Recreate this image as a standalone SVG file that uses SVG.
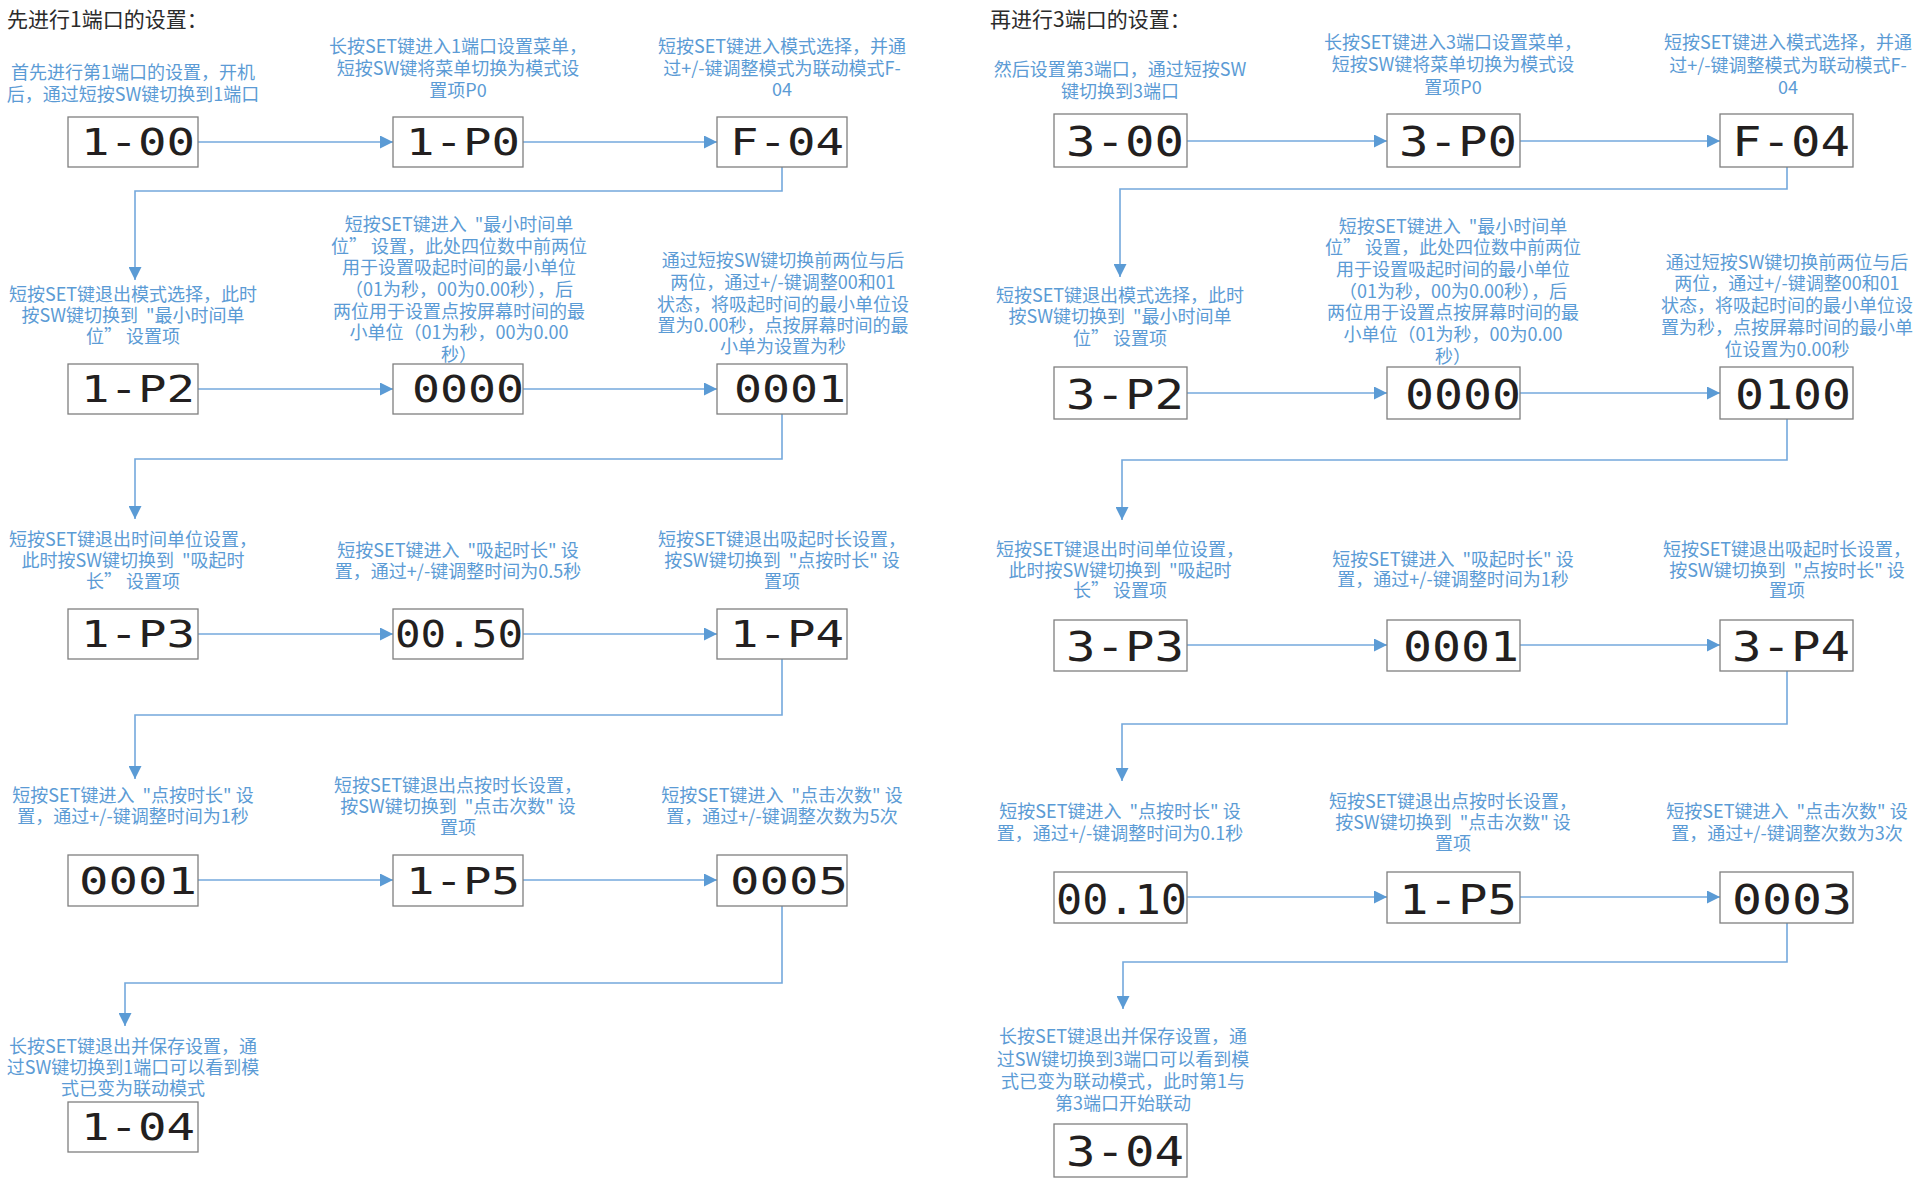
<svg xmlns="http://www.w3.org/2000/svg" width="1920" height="1185" viewBox="0 0 1920 1185">
<style>
.bg{fill:#ffffff}
.title{font-family:"Noto Sans CJK SC","Noto Sans",sans-serif;font-size:21px;fill:#2b2b2b}
.lbl{font-family:"Noto Sans CJK SC","Noto Sans",sans-serif;font-size:18px;fill:#5b9bd5;text-anchor:middle}
.box{fill:#ffffff;stroke:#7f7f7f;stroke-width:1.3}
.seg{font-family:"DejaVu Sans Mono","Liberation Mono",monospace;font-size:37px;fill:#231f20;text-anchor:end}
.segR{font-family:"DejaVu Sans Mono","Liberation Mono",monospace;font-size:40px;fill:#231f20;text-anchor:end}
.conn{fill:none;stroke:#74a8dc;stroke-width:1.6}
</style>
<defs>
<marker id="ah" markerWidth="13" markerHeight="13" refX="13" refY="6.5" orient="auto" markerUnits="userSpaceOnUse">
<path d="M0,0 L13,6.5 L0,13 z" fill="#5b9bd5"/>
</marker>
</defs>
<rect class="bg" x="0" y="0" width="1920" height="1185"/>

<text class="title" x="7" y="27">先进行1端口的设置：</text>
<text class="title" x="990" y="27">再进行3端口的设置：</text>

<g id="connectors">
<path class="conn" d="M198,142 H393" marker-end="url(#ah)"/>
<path class="conn" d="M523,142 H717" marker-end="url(#ah)"/>
<path class="conn" d="M782,167 V191 H135 V280" marker-end="url(#ah)"/>
<path class="conn" d="M198,389 H393" marker-end="url(#ah)"/>
<path class="conn" d="M523,389 H717" marker-end="url(#ah)"/>
<path class="conn" d="M782,414 V459 H135 V519" marker-end="url(#ah)"/>
<path class="conn" d="M198,634 H393" marker-end="url(#ah)"/>
<path class="conn" d="M523,634 H717" marker-end="url(#ah)"/>
<path class="conn" d="M782,659 V715 H135 V779" marker-end="url(#ah)"/>
<path class="conn" d="M198,880 H393" marker-end="url(#ah)"/>
<path class="conn" d="M523,880 H717" marker-end="url(#ah)"/>
<path class="conn" d="M782,906 V983 H125 V1026" marker-end="url(#ah)"/>

<path class="conn" d="M1187,141 H1387" marker-end="url(#ah)"/>
<path class="conn" d="M1520,141 H1720" marker-end="url(#ah)"/>
<path class="conn" d="M1787,167 V189 H1120 V277" marker-end="url(#ah)"/>
<path class="conn" d="M1187,393 H1387" marker-end="url(#ah)"/>
<path class="conn" d="M1520,393 H1720" marker-end="url(#ah)"/>
<path class="conn" d="M1787,419 V460 H1122 V520" marker-end="url(#ah)"/>
<path class="conn" d="M1187,645 H1387" marker-end="url(#ah)"/>
<path class="conn" d="M1520,645 H1720" marker-end="url(#ah)"/>
<path class="conn" d="M1787,671 V724 H1122 V781" marker-end="url(#ah)"/>
<path class="conn" d="M1187,897 H1387" marker-end="url(#ah)"/>
<path class="conn" d="M1520,897 H1720" marker-end="url(#ah)"/>
<path class="conn" d="M1787,923 V962 H1123 V1009" marker-end="url(#ah)"/>
</g>

<!-- LEFT COLUMN -->
<g id="n-1-00">
<text class="lbl"><tspan x="133" y="79">首先进行第1端口的设置，开机</tspan><tspan x="133" y="101">后，通过短按SW键切换到1端口</tspan></text>
<rect class="box" x="68" y="117" width="130" height="50"/>
<text class="seg" x="195" y="155" textLength="114" lengthAdjust="spacingAndGlyphs">1-00</text>
</g>
<g id="n-1-P0">
<text class="lbl"><tspan x="458" y="53">长按SET键进入1端口设置菜单，</tspan><tspan x="458" y="75">短按SW键将菜单切换为模式设</tspan><tspan x="458" y="97">置项P0</tspan></text>
<rect class="box" x="393" y="117" width="130" height="50"/>
<text class="seg" x="520" y="155" textLength="114" lengthAdjust="spacingAndGlyphs">1-P0</text>
</g>
<g id="n-F-04-L">
<text class="lbl"><tspan x="782" y="53">短按SET键进入模式选择，并通</tspan><tspan x="782" y="75">过+/-键调整模式为联动模式F-</tspan><tspan x="782" y="96">04</tspan></text>
<rect class="box" x="717" y="117" width="130" height="50"/>
<text class="seg" x="844" y="155" textLength="114" lengthAdjust="spacingAndGlyphs">F-04</text>
</g>

<g id="n-1-P2">
<text class="lbl"><tspan x="133" y="301">短按SET键退出模式选择，此时</tspan><tspan x="133" y="322">按SW键切换到 &#160;"最小时间单</tspan><tspan x="133" y="343">位” 设置项</tspan></text>
<rect class="box" x="68" y="364" width="130" height="50"/>
<text class="seg" x="195" y="402" textLength="114" lengthAdjust="spacingAndGlyphs">1-P2</text>
</g>
<g id="n-0000-L">
<text class="lbl"><tspan x="459" y="231">短按SET键进入 &#160;"最小时间单</tspan><tspan x="459" y="253">位” 设置，此处四位数中前两位</tspan><tspan x="459" y="274">用于设置吸起时间的最小单位</tspan><tspan x="459" y="296">（01为秒，00为0.00秒），后</tspan><tspan x="459" y="318">两位用于设置点按屏幕时间的最</tspan><tspan x="459" y="339">小单位（01为秒，00为0.00</tspan><tspan x="459" y="361">秒）</tspan></text>
<rect class="box" x="393" y="364" width="130" height="50"/>
<text class="seg" x="524" y="402" textLength="112" lengthAdjust="spacingAndGlyphs">0000</text>
</g>
<g id="n-0001-L">
<text class="lbl"><tspan x="783" y="267">通过短按SW键切换前两位与后</tspan><tspan x="783" y="289">两位，通过+/-键调整00和01</tspan><tspan x="783" y="311">状态，将吸起时间的最小单位设</tspan><tspan x="783" y="332">置为0.00秒，点按屏幕时间的最</tspan><tspan x="783" y="353">小单为设置为秒</tspan></text>
<rect class="box" x="717" y="364" width="130" height="50"/>
<text class="seg" x="846" y="402" textLength="112" lengthAdjust="spacingAndGlyphs">0001</text>
</g>

<g id="n-1-P3">
<text class="lbl"><tspan x="133" y="546">短按SET键退出时间单位设置，</tspan><tspan x="133" y="567">此时按SW键切换到 &#160;"吸起时</tspan><tspan x="133" y="588">长” 设置项</tspan></text>
<rect class="box" x="68" y="609" width="130" height="50"/>
<text class="seg" x="195" y="647" textLength="114" lengthAdjust="spacingAndGlyphs">1-P3</text>
</g>
<g id="n-0050">
<text class="lbl"><tspan x="458" y="557">短按SET键进入 &#160;"吸起时长" 设</tspan><tspan x="458" y="578">置，通过+/-键调整时间为0.5秒</tspan></text>
<rect class="box" x="393" y="609" width="130" height="50"/>
<text class="seg" x="523" y="647" textLength="128" lengthAdjust="spacingAndGlyphs">00.50</text>
</g>
<g id="n-1-P4">
<text class="lbl"><tspan x="782" y="546">短按SET键退出吸起时长设置，</tspan><tspan x="782" y="567">按SW键切换到 &#160;"点按时长" 设</tspan><tspan x="782" y="588">置项</tspan></text>
<rect class="box" x="717" y="609" width="130" height="50"/>
<text class="seg" x="844" y="647" textLength="114" lengthAdjust="spacingAndGlyphs">1-P4</text>
</g>

<g id="n-0001-L2">
<text class="lbl"><tspan x="133" y="802">短按SET键进入 &#160;"点按时长" 设</tspan><tspan x="133" y="823">置，通过+/-键调整时间为1秒</tspan></text>
<rect class="box" x="68" y="855" width="130" height="51"/>
<text class="seg" x="197" y="894" textLength="118" lengthAdjust="spacingAndGlyphs">0001</text>
</g>
<g id="n-1-P5-L">
<text class="lbl"><tspan x="458" y="792">短按SET键退出点按时长设置，</tspan><tspan x="458" y="813">按SW键切换到 &#160;"点击次数" 设</tspan><tspan x="458" y="834">置项</tspan></text>
<rect class="box" x="393" y="855" width="130" height="51"/>
<text class="seg" x="520" y="894" textLength="114" lengthAdjust="spacingAndGlyphs">1-P5</text>
</g>
<g id="n-0005">
<text class="lbl"><tspan x="782" y="802">短按SET键进入 &#160;"点击次数" 设</tspan><tspan x="782" y="823">置，通过+/-键调整次数为5次</tspan></text>
<rect class="box" x="717" y="855" width="130" height="51"/>
<text class="seg" x="848" y="894" textLength="118" lengthAdjust="spacingAndGlyphs">0005</text>
</g>

<g id="n-1-04">
<text class="lbl"><tspan x="133" y="1053">长按SET键退出并保存设置，通</tspan><tspan x="133" y="1074">过SW键切换到1端口可以看到模</tspan><tspan x="133" y="1095">式已变为联动模式</tspan></text>
<rect class="box" x="68" y="1102" width="130" height="50"/>
<text class="seg" x="195" y="1140" textLength="114" lengthAdjust="spacingAndGlyphs">1-04</text>
</g>

<!-- RIGHT COLUMN -->
<g id="n-3-00">
<text class="lbl"><tspan x="1120" y="76">然后设置第3端口，通过短按SW</tspan><tspan x="1120" y="98">键切换到3端口</tspan></text>
<rect class="box" x="1054" y="114" width="133" height="53"/>
<text class="segR" x="1184" y="156" textLength="118" lengthAdjust="spacingAndGlyphs">3-00</text>
</g>
<g id="n-3-P0">
<text class="lbl"><tspan x="1453" y="49">长按SET键进入3端口设置菜单，</tspan><tspan x="1453" y="71">短按SW键将菜单切换为模式设</tspan><tspan x="1453" y="94">置项P0</tspan></text>
<rect class="box" x="1387" y="114" width="133" height="53"/>
<text class="segR" x="1517" y="156" textLength="118" lengthAdjust="spacingAndGlyphs">3-P0</text>
</g>
<g id="n-F-04-R">
<text class="lbl"><tspan x="1788" y="49">短按SET键进入模式选择，并通</tspan><tspan x="1788" y="72">过+/-键调整模式为联动模式F-</tspan><tspan x="1788" y="94">04</tspan></text>
<rect class="box" x="1720" y="114" width="133" height="53"/>
<text class="segR" x="1850" y="156" textLength="118" lengthAdjust="spacingAndGlyphs">F-04</text>
</g>

<g id="n-3-P2">
<text class="lbl"><tspan x="1120" y="302">短按SET键退出模式选择，此时</tspan><tspan x="1120" y="323">按SW键切换到 &#160;"最小时间单</tspan><tspan x="1120" y="345">位” 设置项</tspan></text>
<rect class="box" x="1054" y="367" width="133" height="52"/>
<text class="segR" x="1184" y="409" textLength="118" lengthAdjust="spacingAndGlyphs">3-P2</text>
</g>
<g id="n-0000-R">
<text class="lbl"><tspan x="1453" y="233">短按SET键进入 &#160;"最小时间单</tspan><tspan x="1453" y="254">位” 设置，此处四位数中前两位</tspan><tspan x="1453" y="276">用于设置吸起时间的最小单位</tspan><tspan x="1453" y="298">（01为秒，00为0.00秒），后</tspan><tspan x="1453" y="319">两位用于设置点按屏幕时间的最</tspan><tspan x="1453" y="341">小单位（01为秒，00为0.00</tspan><tspan x="1453" y="363">秒）</tspan></text>
<rect class="box" x="1387" y="367" width="133" height="52"/>
<text class="segR" x="1521" y="409" textLength="116" lengthAdjust="spacingAndGlyphs">0000</text>
</g>
<g id="n-0100">
<text class="lbl"><tspan x="1787" y="269">通过短按SW键切换前两位与后</tspan><tspan x="1787" y="290">两位，通过+/-键调整00和01</tspan><tspan x="1787" y="312">状态，将吸起时间的最小单位设</tspan><tspan x="1787" y="334">置为秒，点按屏幕时间的最小单</tspan><tspan x="1787" y="356">位设置为0.00秒</tspan></text>
<rect class="box" x="1720" y="367" width="133" height="52"/>
<text class="segR" x="1851" y="409" textLength="116" lengthAdjust="spacingAndGlyphs">0100</text>
</g>

<g id="n-3-P3">
<text class="lbl"><tspan x="1120" y="556">短按SET键退出时间单位设置，</tspan><tspan x="1120" y="577">此时按SW键切换到 &#160;"吸起时</tspan><tspan x="1120" y="597">长” 设置项</tspan></text>
<rect class="box" x="1054" y="620" width="133" height="51"/>
<text class="segR" x="1184" y="661" textLength="118" lengthAdjust="spacingAndGlyphs">3-P3</text>
</g>
<g id="n-0001-R">
<text class="lbl"><tspan x="1453" y="566">短按SET键进入 &#160;"吸起时长" 设</tspan><tspan x="1453" y="586">置，通过+/-键调整时间为1秒</tspan></text>
<rect class="box" x="1387" y="620" width="133" height="51"/>
<text class="segR" x="1519" y="661" textLength="116" lengthAdjust="spacingAndGlyphs">0001</text>
</g>
<g id="n-3-P4">
<text class="lbl"><tspan x="1787" y="556">短按SET键退出吸起时长设置，</tspan><tspan x="1787" y="577">按SW键切换到 &#160;"点按时长" 设</tspan><tspan x="1787" y="597">置项</tspan></text>
<rect class="box" x="1720" y="620" width="133" height="51"/>
<text class="segR" x="1850" y="661" textLength="118" lengthAdjust="spacingAndGlyphs">3-P4</text>
</g>

<g id="n-0010">
<text class="lbl"><tspan x="1120" y="818">短按SET键进入 &#160;"点按时长" 设</tspan><tspan x="1120" y="840">置，通过+/-键调整时间为0.1秒</tspan></text>
<rect class="box" x="1054" y="872" width="133" height="51"/>
<text class="segR" x="1187" y="914" textLength="131" lengthAdjust="spacingAndGlyphs">00.10</text>
</g>
<g id="n-1-P5-R">
<text class="lbl"><tspan x="1453" y="808">短按SET键退出点按时长设置，</tspan><tspan x="1453" y="829">按SW键切换到 &#160;"点击次数" 设</tspan><tspan x="1453" y="850">置项</tspan></text>
<rect class="box" x="1387" y="872" width="133" height="51"/>
<text class="segR" x="1517" y="914" textLength="118" lengthAdjust="spacingAndGlyphs">1-P5</text>
</g>
<g id="n-0003">
<text class="lbl"><tspan x="1787" y="818">短按SET键进入 &#160;"点击次数" 设</tspan><tspan x="1787" y="840">置，通过+/-键调整次数为3次</tspan></text>
<rect class="box" x="1720" y="872" width="133" height="51"/>
<text class="segR" x="1852" y="914" textLength="120" lengthAdjust="spacingAndGlyphs">0003</text>
</g>

<g id="n-3-04">
<text class="lbl"><tspan x="1123" y="1043">长按SET键退出并保存设置，通</tspan><tspan x="1123" y="1066">过SW键切换到3端口可以看到模</tspan><tspan x="1123" y="1088">式已变为联动模式，此时第1与</tspan><tspan x="1123" y="1110">第3端口开始联动</tspan></text>
<rect class="box" x="1054" y="1124" width="133" height="53"/>
<text class="segR" x="1184" y="1166" textLength="118" lengthAdjust="spacingAndGlyphs">3-04</text>
</g>
</svg>
